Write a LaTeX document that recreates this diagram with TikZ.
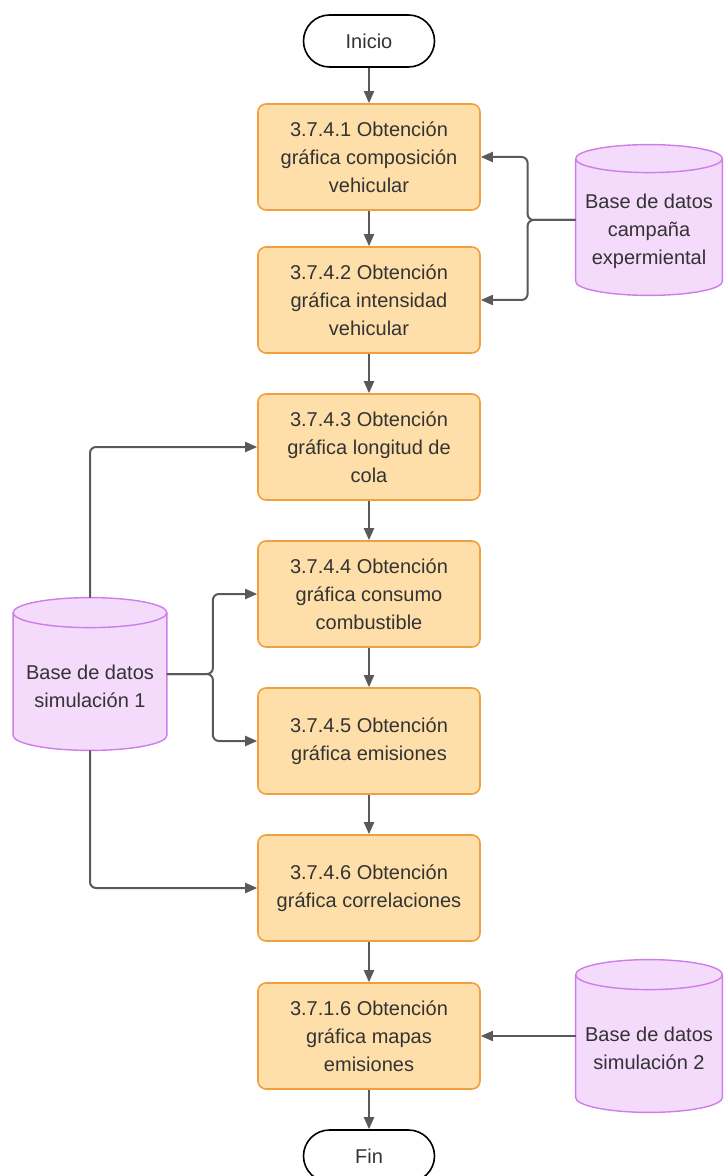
\documentclass[tikz,border=0pt]{standalone}
\usepackage{fontspec}
\setmainfont{Liberation Sans}
\usetikzlibrary{arrows.meta,calc,backgrounds}
\definecolor{boxfill}{HTML}{FFDFA9}
\definecolor{boxline}{HTML}{F2A03D}
\definecolor{cylfill}{HTML}{F4DAFB}
\definecolor{cylline}{HTML}{CF7DE8}
\definecolor{conncol}{HTML}{595959}
\definecolor{txt}{HTML}{333333}
\newcommand\mycyl[2]{%
  \path[fill=cylfill,draw=cylline,line width=0.7pt] let \p1=(#1.north west), \p2=(#1.south east), \n1={(\x2-\x1)/2} in
    (\x1,\y1-#2) -- (\x1,\y2+#2) arc[start angle=180,end angle=360,x radius=\n1,y radius=#2]
    -- (\x2,\y1-#2) arc[start angle=0,end angle=180,x radius=\n1,y radius=#2] -- cycle;
  \path[draw=cylline,line width=0.7pt] let \p1=(#1.north west), \p2=(#1.south east), \n1={(\x2-\x1)/2} in
    (\x1,\y1-#2) arc[start angle=180,end angle=360,x radius=\n1,y radius=#2];
}
\begin{document}
\begin{tikzpicture}[x=0.5pt,y=0.5pt,
  font=\fontsize{10}{14}\selectfont,
  stepbox/.style={draw=boxline,fill=boxfill,line width=0.8pt,rounded corners=4pt,
    minimum width=111pt,minimum height=53pt,align=center,text=txt,inner sep=2pt},
  term/.style={draw=black,fill=white,line width=0.8pt,rounded corners=13pt,
    minimum width=65.5pt,minimum height=26pt,text=txt},
  dbnode/.style={minimum width=76.5pt,minimum height=76pt,inner sep=0pt},
  dbtext/.style={align=center,text=txt,font=\fontsize{10}{14}\selectfont},
  conn/.style={draw=conncol,line width=1pt,rounded corners=3pt,-{Triangle[length=6pt,width=5pt]}}]
\useasboundingbox (0,0) rectangle (723,-1176);

\node[term] (start) at (369,-41) {Inicio};
\node[stepbox] (b1) at (369,-157) {3.7.4.1 Obtención\\gráfica composición\\vehicular};
\node[stepbox] (b2) at (369,-300) {3.7.4.2 Obtención\\gráfica intensidad\\vehicular};
\node[stepbox] (b3) at (369,-447) {3.7.4.3 Obtención\\gráfica longitud de\\cola};
\node[stepbox] (b4) at (369,-594) {3.7.4.4 Obtención\\gráfica consumo\\combustible};
\node[stepbox] (b5) at (369,-741) {3.7.4.5 Obtención\\gráfica emisiones};
\node[stepbox] (b6) at (369,-888) {3.7.4.6 Obtención\\gráfica correlaciones};
\node[stepbox] (b7) at (369,-1036) {3.7.1.6 Obtención\\gráfica mapas\\emisiones};
\node[term] (fin) at (369,-1156) {Fin};

\node[dbnode,minimum width=73pt,minimum height=75pt,
  label={[dbtext,yshift=-5.5pt]center:{Base de datos\\campaña\\expermiental}}] (dbc) at (649,-220) {};
\node[dbnode,
  label={[dbtext,yshift=-6pt]center:{Base de datos\\simulación 1}}] (db1) at (90,-674) {};
\node[dbnode,minimum width=73pt,
  label={[dbtext,yshift=-6pt]center:{Base de datos\\simulación 2}}] (db2) at (649,-1036) {};

\begin{scope}[on background layer]
  \mycyl{dbc}{7pt}
  \mycyl{db1}{7.5pt}
  \mycyl{db2}{7.5pt}
\end{scope}

\draw[conn] (start) -- (b1);
\draw[conn] (b1) -- (b2);
\draw[conn] (b2) -- (b3);
\draw[conn] (b3) -- (b4);
\draw[conn] (b4) -- (b5);
\draw[conn] (b5) -- (b6);
\draw[conn] (b6) -- (b7);
\draw[conn] (b7) -- (fin);

\draw[conn] (dbc.west) -- ++(-48,0) |- (b1.east);
\draw[conn] (dbc.west) -- ++(-48,0) |- (b2.east);

\draw[conn] (db1.north) |- (b3.west);
\draw[conn] (db1.east) -- ++(46,0) |- (b4.west);
\draw[conn] (db1.east) -- ++(46,0) |- (b5.west);
\draw[conn] (db1.south) |- (b6.west);

\draw[conn] (db2.west) -- (b7.east);
\end{tikzpicture}
\end{document}
